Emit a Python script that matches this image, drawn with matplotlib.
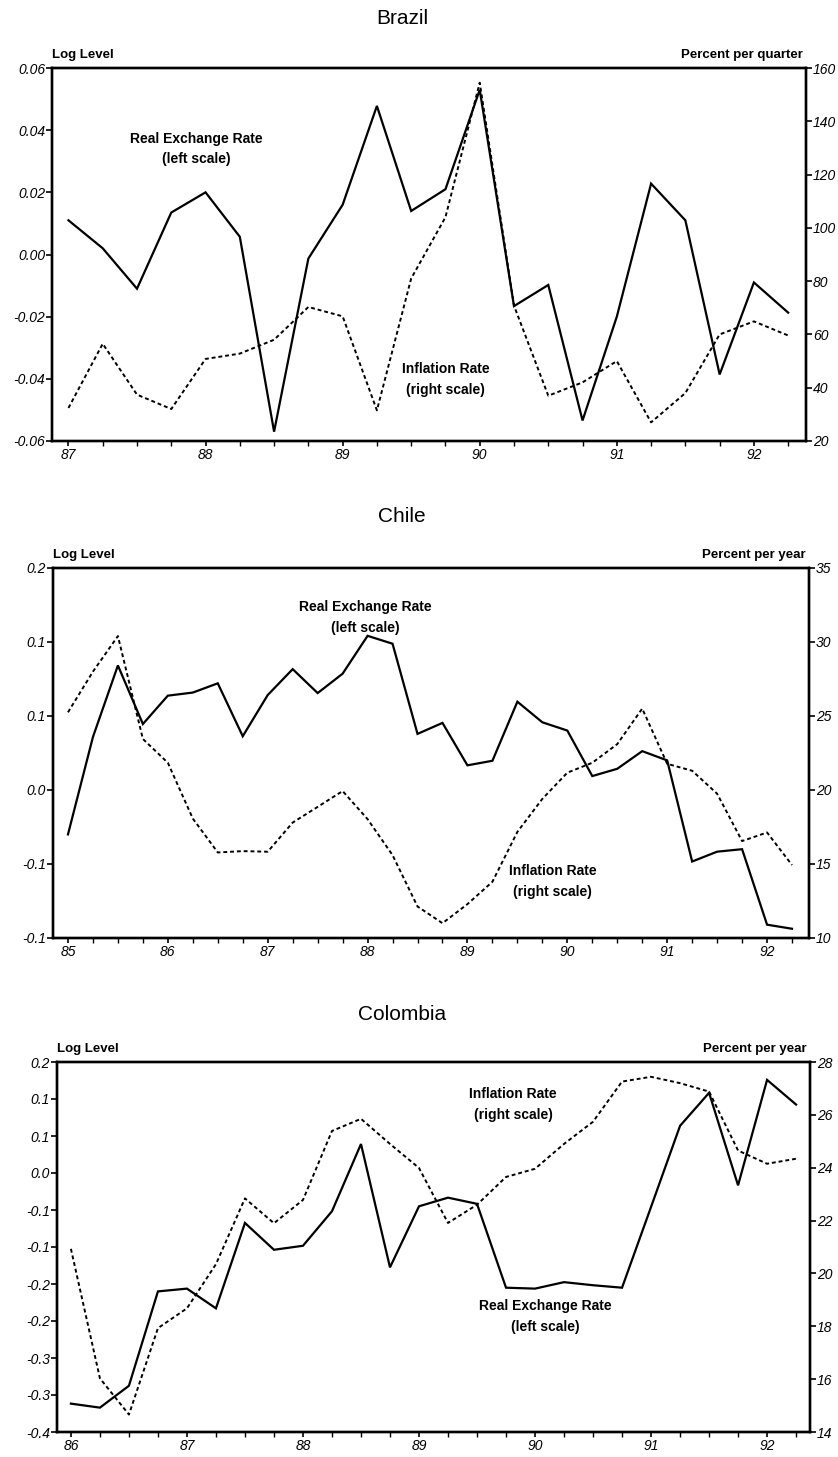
import numpy as np
import matplotlib
matplotlib.use("Agg")
import matplotlib.pyplot as plt
from matplotlib.ticker import FixedLocator, MultipleLocator

plt.rcParams['font.family'] = ['Liberation Sans', 'DejaVu Sans']

# ---------------- data ----------------
brazil_start, brazil_n = 87.0, 22
brazil_rer = [0.011, 0.002, -0.011, 0.0135, 0.020, 0.0057, -0.057, -0.0013, 0.016, 0.0478,
              0.014, 0.021, 0.053, -0.0166, -0.0098, -0.0534, -0.020, 0.0228, 0.011, -0.0386,
              -0.009, -0.0187]
brazil_infl = [32.4, 56.5, 37.4, 32.0, 50.8, 52.8, 58.0, 70.3, 66.8, 31.5, 81.0, 104.0,
               154.5, 70.8, 37.0, 42.0, 50.0, 27.0, 38.0, 60.0, 64.9, 59.6]
brazil_years = [87, 88, 89, 90, 91, 92]
brazil_left_ticks = [-0.06, -0.04, -0.02, 0.00, 0.02, 0.04, 0.06]
brazil_left_labels = ["-0.06", "-0.04", "-0.02", "0.00", "0.02", "0.04", "0.06"]
brazil_right_ticks = [20, 40, 60, 80, 100, 120, 140, 160]

chile_start, chile_n = 85.0, 30
chile_rer = [-0.016, 0.063, 0.121, 0.0735, 0.0965, 0.099, 0.1065, 0.0636, 0.097, 0.118,
             0.0986, 0.1143, 0.145, 0.1386, 0.0655, 0.0744, 0.040, 0.0437, 0.0916, 0.0749,
             0.0682, 0.0313, 0.0372, 0.0515, 0.044, -0.038, -0.030, -0.028, -0.0892, -0.0925]
chile_infl = [25.25, 28.0, 30.4, 23.45, 21.84, 18.07, 15.78, 15.87, 15.83, 17.8,
              18.86, 19.93, 18.03, 15.6, 12.13, 11.0, 12.29, 13.8, 17.17, 19.4,
              21.17, 21.84, 23.1, 25.5, 21.77, 21.3, 19.75, 16.55, 17.13, 14.93]
chile_years = [85, 86, 87, 88, 89, 90, 91, 92]
chile_left_ticks = [-0.10, -0.04, 0.02, 0.08, 0.14, 0.20]
chile_left_labels = ["-0.1", "-0.1", "0.0", "0.1", "0.1", "0.2"]
chile_right_ticks = [10, 15, 20, 25, 30, 35]

col_start, col_n = 86.0, 26
col_rer = [-0.354, -0.3605, -0.325, -0.172, -0.1675, -0.1995, -0.061, -0.1045, -0.098, -0.042,
           0.067, -0.133, -0.034, -0.020, -0.030, -0.166, -0.1675, -0.157, -0.162, -0.166,
           -0.035, 0.0965, 0.15, 0.0, 0.171, 0.131]
col_infl = [20.93, 16.03, 14.66, 17.93, 18.68, 20.35, 22.84, 21.9, 22.78, 25.39,
            25.85, 24.9, 23.99, 21.91, 22.6, 23.65, 23.96, 24.9, 25.74, 27.26,
            27.44, 27.2, 26.88, 24.65, 24.15, 24.34]
col_years = [86, 87, 88, 89, 90, 91, 92]
col_left_ticks = [-0.40, -0.34, -0.28, -0.22, -0.16, -0.10, -0.04, 0.02, 0.08, 0.14, 0.20]
col_left_labels = ["-0.4", "-0.3", "-0.3", "-0.2", "-0.2", "-0.1", "-0.1", "0.0", "0.1", "0.1", "0.2"]
col_right_ticks = [14, 16, 18, 20, 22, 24, 26, 28]

# ---------------- figure ----------------
W, H = 838, 1457
fig = plt.figure(figsize=(W / 100, H / 100), dpi=100)

tick_font = dict(family=['Liberation Sans', 'DejaVu Sans'], style='italic', size=10)
lab_font = dict(family=['Liberation Sans Narrow', 'Liberation Sans', 'DejaVu Sans'], weight='bold', size=9.5)
ann_font = dict(family=['Liberation Sans Narrow', 'Liberation Sans', 'DejaVu Sans'], weight='bold', size=10)


def quarters(start, n):
    return [start + 0.25 * i for i in range(n)]


def panel(box, title, title_y, xlim, years, start, rer, infl,
          lticks, llabels, lylim, rticks, rylim, right_unit,
          rer_pos, infl_pos):
    l, t, r, b = box
    ax = fig.add_axes([l / W, 1 - b / H, (r - l) / W, (b - t) / H])
    ax2 = ax.twinx()
    x = quarters(start, len(rer))
    ax.plot(x, rer, color='black', lw=1.6, solid_joinstyle='miter')
    ax2.plot(x, infl, color='black', lw=1.4, linestyle=(0, (2.0, 1.5)))
    ax.set_xlim(*xlim)
    ax.set_ylim(*lylim)
    ax2.set_ylim(*rylim)
    ax.xaxis.set_major_locator(FixedLocator(years))
    ax.xaxis.set_minor_locator(MultipleLocator(0.25))
    ax.set_xticklabels([str(y) for y in years], **tick_font)
    ax.set_yticks(lticks)
    ax.set_yticklabels(llabels, **tick_font)
    ax2.set_yticks(rticks)
    ax2.set_yticklabels([str(v) for v in rticks], **tick_font)
    for a in (ax, ax2):
        for s in a.spines.values():
            s.set_linewidth(1.7)
    ax.tick_params(axis='x', which='major', direction='out', length=3.5, width=1.2, pad=1.5)
    ax.tick_params(axis='x', which='minor', direction='out', length=3.5, width=1.0)
    ax.tick_params(axis='y', direction='out', length=4, width=1.2, pad=1)
    ax2.tick_params(axis='y', direction='out', length=4, width=1.2, pad=1)
    fig.text(402 / W, 1 - title_y / H, title, ha='center', va='center', size=15)
    fig.text(l / W, 1 - (t - 13) / H, "Log Level", ha='left', va='center', **lab_font)
    fig.text((r - 3) / W, 1 - (t - 13) / H, right_unit, ha='right', va='center', **lab_font)
    ax.text(rer_pos[0], rer_pos[1], "Real Exchange Rate\n(left scale)", ha='center', va='center',
            transform=ax.transData, linespacing=1.6, **ann_font)
    ax2.text(infl_pos[0], infl_pos[1], "Inflation Rate\n(right scale)", ha='center', va='center',
             transform=ax2.transData, linespacing=1.6, **ann_font)
    return ax, ax2


panel((52, 68, 806, 441), "Brazil", 18, (86.88, 92.38), brazil_years, brazil_start,
      brazil_rer, brazil_infl, brazil_left_ticks, brazil_left_labels, (-0.06, 0.06),
      brazil_right_ticks, (20, 160), "Percent per quarter",
      (87.93, 0.034), (89.75, 43.0))

panel((53, 568, 809, 938), "Chile", 517, (84.85, 92.42), chile_years, chile_start,
      chile_rer, chile_infl, chile_left_ticks, chile_left_labels, (-0.10, 0.20),
      chile_right_ticks, (10, 35), "Percent per year",
      (87.98, 0.16), (89.85, 13.8))

panel((57, 1062, 810, 1432), "Colombia", 1015, (85.88, 92.37), col_years, col_start,
      col_rer, col_infl, col_left_ticks, col_left_labels, (-0.40, 0.20),
      col_right_ticks, (14, 28), "Percent per year",
      (90.09, -0.213), (89.81, 26.4))

fig.savefig("out.png", dpi=100)
